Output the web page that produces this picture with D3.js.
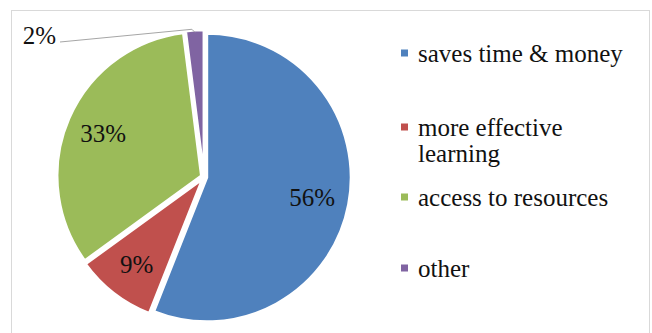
<html><head><script src="https://d3js.org/d3.v7.min.js"></script>
<style>
  svg, svg text, svg tspan { font-family: "Times New Roman", "Liberation Serif", Tinos, serif !important; }
</style>
</head><body style="margin:0">
<svg id="chart" width="652" height="333" font-family="serif"></svg>
<script>
// data
var categories = ["saves time & money", "more effective learning", "access to resources", "other"];
var values = [56, 9, 33, 2];
var colors = ["#4F81BD", "#C0504D", "#9BBB59", "#8064A2"];

var config = { cx: 204, cy: 177, r: 144, explode: 3, fs: 25 };
var fam = "Times New Roman, Liberation Serif, serif";

var svg = d3.select("#chart");

// light frame round the chart
svg.append("rect")
  .attr("x", 11.5).attr("y", 10.5)
  .attr("width", 638).attr("height", 340)
  .attr("fill", "none")
  .attr("stroke", "#d9d9d9");

var pie = d3.pie().sort(null).value(function(d) { return d; });
var arcs = pie(values);

var arc = d3.arc().innerRadius(0).outerRadius(config.r);
var labelArc = d3.arc().innerRadius(110).outerRadius(110);

var g = svg.append("g").attr("transform", "translate(" + config.cx + "," + config.cy + ")");

function offset(d, k) {
  var a = (d.startAngle + d.endAngle) / 2;
  return [Math.sin(a) * k, -Math.cos(a) * k];
}

g.selectAll("path")
  .data(arcs)
  .enter()
  .append("path")
  .attr("d", arc)
  .attr("transform", function(d) { var o = offset(d, config.explode); return "translate(" + o + ")"; })
  .attr("fill", function(d, i) { return colors[i]; })
  .attr("stroke", "#fff")
  .attr("stroke-width", 2.5);

// inside labels for the big slices
g.selectAll("text.inner")
  .data(arcs.filter(function(d) { return d.value > 5; }))
  .enter()
  .append("text")
  .attr("class", "inner")
  .attr("transform", function(d) {
    var c = labelArc.centroid(d);
    return "translate(" + c + ")";
  })
  .attr("text-anchor", "middle")
  .attr("dy", "0.35em")
  .attr("font-family", fam)
  .attr("font-size", config.fs)
  .attr("fill", "#111")
  .text(function(d) { return d.value + "%"; });

// small slice gets an outside label with a leader line
arcs.filter(function(d) { return d.value <= 5; }).forEach(function(d) {
  var a = (d.startAngle + d.endAngle) / 2;
  var o = offset(d, config.explode);
  var px = Math.sin(a) * (config.r - 2) + o[0];
  var py = -Math.cos(a) * (config.r - 2) + o[1];
  g.append("polyline")
    .attr("points", [[px, py], [px - 3, py - 3], [-144, -135]].join(" "))
    .attr("fill", "none")
    .attr("stroke", "#a6a6a6")
    .attr("stroke-width", 1);
  g.append("text")
    .attr("transform", "translate(-148,-142)")
    .attr("text-anchor", "end")
    .attr("dy", "0.35em")
    .attr("font-family", fam)
    .attr("font-size", config.fs)
    .attr("fill", "#111")
    .text(d.value + "%");
});

// legend
var legendY = [53, 127, 197, 268];
var legend = svg.append("g");
categories.forEach(function(c, i) {
  var row = legend.append("g").attr("transform", "translate(401," + legendY[i] + ")");
  row.append("rect")
    .attr("x", 0).attr("y", -3.5)
    .attr("width", 7).attr("height", 7)
    .attr("fill", colors[i]);
  var words = c === "more effective learning" ? ["more effective", "learning"] : [c];
  var t = row.append("text")
    .attr("transform", "translate(17,0)")
    .attr("font-family", fam)
    .attr("font-size", config.fs)
    .attr("fill", "#111");
  words.forEach(function(w, j) {
    t.append("tspan").attr("x", 0).attr("dy", j === 0 ? "0.35em" : "1.05em").text(w);
  });
});
</script></body></html>
